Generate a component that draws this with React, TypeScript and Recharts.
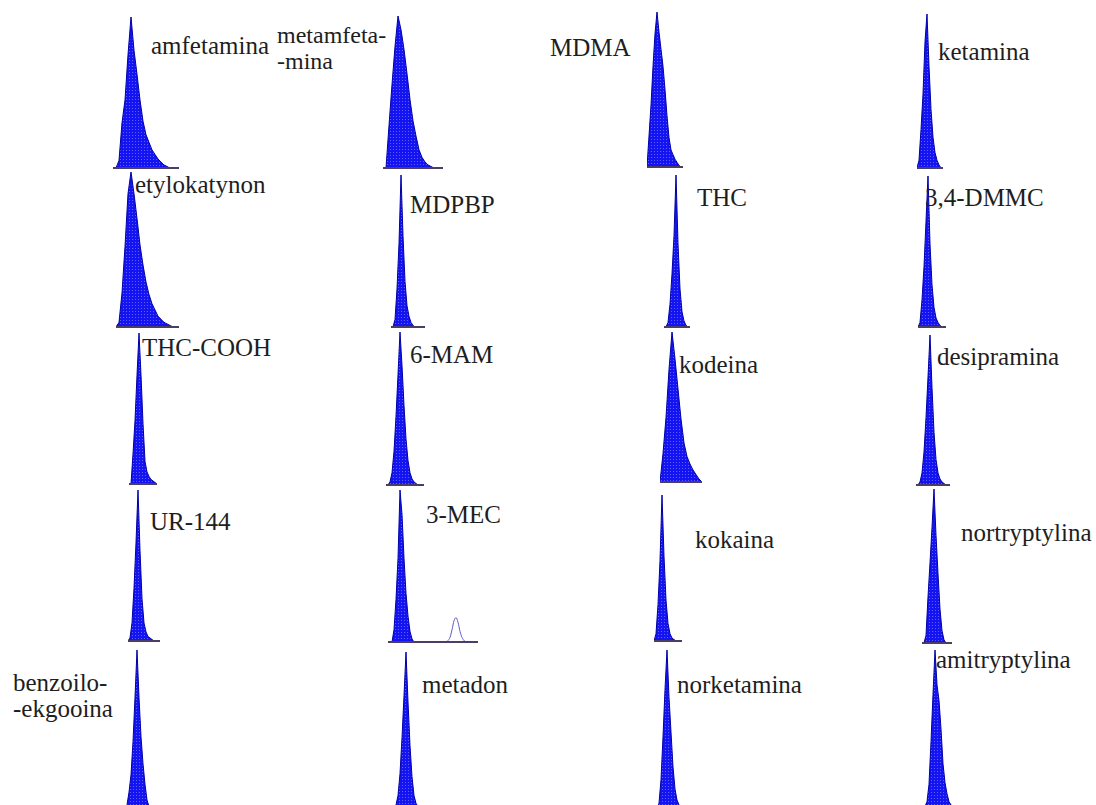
import { AreaChart, Area, XAxis, YAxis, ReferenceLine } from 'recharts'

// detector signal, sampled at equal time steps, 0..100 = peak height
const amfetamina = [0, 0, 5, 30, 45, 75, 100, 78, 62, 45, 31, 22, 17, 12, 9, 6, 4, 2, 1, 0, 0, 0, 0]
const metamfetamina = [0, 0, 28, 55, 80, 100, 91, 78, 62, 45, 31, 21, 12, 7, 4, 2, 1, 0, 0, 0, 0]
const mdma = [0, 20, 40, 65, 86, 100, 87, 76, 65, 50, 33, 19, 11, 8, 5, 3, 1, 0, 0]
const ketamina = [0, 5, 25, 48, 82, 100, 66, 38, 20, 10, 5, 2, 0, 0]
const etylokatynon = [0, 3, 22, 52, 86, 100, 86, 70, 53, 40, 29, 21, 15, 11, 7, 5, 3, 2, 1, 0, 0, 0]
const mdpbp = [0, 0, 5, 25, 55, 100, 60, 30, 14, 7, 3, 1, 0, 0, 0, 0, 0, 0]
const thc = [0, 0, 3, 15, 35, 60, 100, 55, 25, 10, 4, 1, 0, 0]
const dmmc = [0, 3, 18, 40, 70, 100, 55, 28, 13, 6, 3, 1, 0, 0, 0]
const thcCooh = [0, 0, 20, 42, 72, 100, 72, 40, 15, 8, 5, 3, 2, 1, 0]
const mam = [0, 0, 2, 8, 22, 45, 72, 100, 78, 52, 30, 16, 8, 4, 2, 1, 0, 0, 0, 0]
const kodeina = [0, 19, 43, 75, 100, 82, 62, 42, 26, 17, 12, 8, 5, 2, 0]
const desipramina = [0, 0, 2, 8, 22, 45, 72, 100, 65, 35, 17, 8, 4, 2, 1, 0, 0, 0]
const ur144 = [0, 2, 12, 35, 65, 100, 60, 28, 12, 6, 3, 2, 1, 0, 0, 0, 0]
const mec = [
  0, 0, 0, 8, 28, 55, 100, 84, 55, 32, 17, 7, 2, 0, 0, 0, 0, 0, 0, 0, 0, 0, 0,
  0, 0, 0, 0, 0, 0, 0, 0, 0, 0, 0, 0, 0, 0, 0, 0, 0, 0, 0, 0, 0, 0, 0,
]
const mecSecond = [
  0, 0, 0, 0, 0, 0, 0, 0, 0, 0, 0, 0, 0, 0, 0, 0, 0, 0, 0, 0, 0, 0, 0,
  0, 0, 0, 0, 0, 0, 0, 1, 3, 8, 14, 16, 13, 7, 3, 1, 0, 0, 0, 0, 0, 0, 0,
]
const kokaina = [0, 5, 25, 55, 100, 58, 28, 12, 5, 2, 1, 0, 0, 0, 0]
const nortryptylina = [0, 0, 5, 30, 52, 75, 100, 70, 45, 22, 8, 2, 0, 0, 0, 0]
const benzoiloekgonina = [0, 0, 2, 10, 21, 42, 70, 100, 70, 45, 28, 15, 5, 1, 0, 0]
const metadon = [0, 0, 2, 8, 22, 45, 72, 100, 68, 40, 20, 8, 3, 1, 0]
const norketamina = [0, 0, 3, 18, 45, 75, 100, 70, 48, 26, 12, 5, 2, 0, 0]
const amitryptylina = [0, 0, 1, 4, 15, 42, 72, 100, 78, 68, 50, 28, 16, 9, 4, 2, 0, 0]

const labels = [
  ['amfetamina'], ['metamfeta-', '-mina'], ['MDMA'], ['ketamina'],
  ['etylokatynon'], ['MDPBP'], ['THC'], ['3,4-DMMC'],
  ['THC-COOH'], ['6-MAM'], ['kodeina'], ['desipramina'],
  ['UR-144'], ['3-MEC'], ['kokaina'], ['nortryptylina'],
  ['benzoilo-', '-ekgooina'], ['metadon'], ['norketamina'], ['amitryptylina'],
]

// layout: x0 = left of baseline, step = px per sample, base = baseline y, h = px for 100
type PeakDef = { values: number[]; extra?: number[]; x0: number; step: number; base: number; h: number; lx: number; ly: number; fs?: number }

const peaks: PeakDef[] = [
  { values: amfetamina, x0: 113, step: 3, base: 168, h: 151, lx: 151, ly: 54 },
  { values: metamfetamina, x0: 383, step: 3, base: 168, h: 152, lx: 277, ly: 43, fs: 24 },
  { values: mdma, x0: 647, step: 2, base: 167, h: 155, lx: 550, ly: 56 },
  { values: ketamina, x0: 917, step: 2, base: 168, h: 154, lx: 938, ly: 60 },
  { values: etylokatynon, x0: 116, step: 3, base: 327, h: 155, lx: 135, ly: 193 },
  { values: mdpbp, x0: 391, step: 2, base: 327, h: 152, lx: 410, ly: 213 },
  { values: thc, x0: 664, step: 2, base: 327, h: 152, lx: 697, ly: 206 },
  { values: dmmc, x0: 918, step: 2, base: 327, h: 151, lx: 925, ly: 206 },
  { values: thcCooh, x0: 129, step: 2, base: 484, h: 151, lx: 142, ly: 356 },
  { values: mam, x0: 386, step: 2, base: 485, h: 153, lx: 410, ly: 363 },
  { values: kodeina, x0: 660, step: 3, base: 482, h: 150, lx: 679, ly: 373 },
  { values: desipramina, x0: 916, step: 2, base: 485, h: 150, lx: 937, ly: 365 },
  { values: ur144, x0: 128, step: 2, base: 641, h: 151, lx: 150, ly: 530 },
  { values: mec, extra: mecSecond, x0: 388, step: 2, base: 642, h: 152, lx: 426, ly: 523 },
  { values: kokaina, x0: 654, step: 2, base: 641, h: 146, lx: 695, ly: 548 },
  { values: nortryptylina, x0: 922, step: 2, base: 643, h: 154, lx: 961, ly: 541 },
  { values: benzoiloekgonina, x0: 123, step: 2, base: 808, h: 158, lx: 13, ly: 691 },
  { values: metadon, x0: 392, step: 2, base: 808, h: 156, lx: 422, ly: 693 },
  { values: norketamina, x0: 655, step: 2, base: 808, h: 158, lx: 677, ly: 693 },
  { values: amitryptylina, x0: 921, step: 2, base: 808, h: 158, lx: 936, ly: 668 },
]

const MT = 6
const MB = 2
const LINE = 26

function Peak({ p, id }: { p: PeakDef; id: number }) {
  const n = p.values.length
  const data = p.values.map((v, i) => ({ t: i, v, w: p.extra ? p.extra[i] : 0 }))
  return (
    <div style={{ position: 'absolute', left: p.x0, top: p.base - p.h - MT }}>
      <AreaChart width={(n - 1) * p.step} height={p.h + MT + MB} data={data} margin={{ top: MT, right: 0, bottom: MB, left: 0 }}>
        <defs>
          <pattern id={`dots${id}`} width={3} height={3} patternUnits="userSpaceOnUse">
            <rect width={3} height={3} fill="#1414f2" />
            <circle cx={1.5} cy={1.5} r={0.55} fill="#6b6bff" />
          </pattern>
        </defs>
        <XAxis type="number" dataKey="t" domain={[0, n - 1]} hide />
        <YAxis domain={[0, 100]} hide />
        <Area type="linear" dataKey="v" stroke="#0000a6" strokeWidth={1} fill={`url(#dots${id})`} fillOpacity={1} isAnimationActive={false} />
        {p.extra && (
          <Area type="monotone" dataKey="w" stroke="#5b5bc8" strokeWidth={1} fill="none" isAnimationActive={false} />
        )}
        <ReferenceLine y={0} stroke="#4b3d66" strokeWidth={2} />
      </AreaChart>
    </div>
  )
}

export default function App() {
  return (
    <div style={{ position: 'absolute', left: 0, top: 0, width: 1096, height: 805, background: '#fff', overflow: 'hidden' }}>
      {peaks.map((p, i) => <Peak key={i} p={p} id={i} />)}
      <svg width={1096} height={805} style={{ position: 'absolute', left: 0, top: 0, pointerEvents: 'none' }}>
        {peaks.map((p, i) => (
          <text key={i} x={p.lx} y={p.ly} fontFamily="'Liberation Serif', 'Times New Roman', serif" fontSize={p.fs || 25} fill="#1e1e1e">
            {labels[i].map((line, j) => (
              <tspan key={j} x={p.lx} dy={j === 0 ? 0 : LINE}>{line}</tspan>
            ))}
          </text>
        ))}
      </svg>
    </div>
  )
}
